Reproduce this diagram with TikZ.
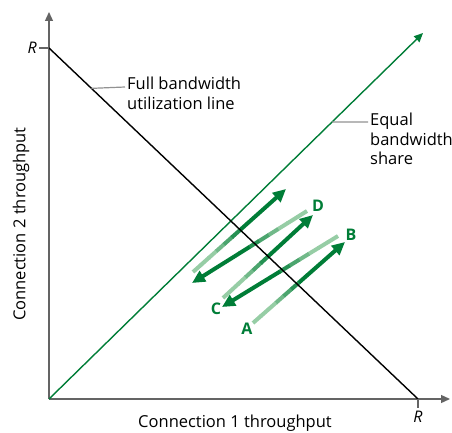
\documentclass[tikz,border=0pt]{standalone}
\usepackage{fontspec}
\setmainfont{Open Sans}
\usetikzlibrary{arrows.meta,positioning,calc}
\definecolor{flowgreen}{RGB}{0,125,55}
\definecolor{palegreen}{RGB}{150,205,165}
\definecolor{axisgray}{RGB}{100,100,100}
\tikzset{
	axis/.style={draw=axisgray, line width=1.3pt, -{Triangle[length=9pt,width=8pt]}},
	tick/.style={draw=axisgray, line width=1.3pt},
	leader/.style={draw=axisgray!70, line width=1.2pt},
	capacity/.style={draw=black, line width=1.4pt},
	fairline/.style={draw=flowgreen, line width=1.4pt, -{Triangle[length=9pt,width=8pt]}},
	caption/.style={font=\fontsize{16.5}{19.5}\selectfont, align=left, inner sep=0pt},
	rmark/.style={font=\fontsize{16}{19}\selectfont\itshape, inner sep=0pt},
	point/.style={font=\fontsize{16}{19}\selectfont\bfseries, text=flowgreen, inner sep=0pt},
	flowpiece/.style={line width=4pt}
}
% one step of the throughput trajectory, pale at its start
\newcommand{\trajectory}[2]{%
	\foreach \k in {0,...,6}{%
		\pgfmathtruncatemacro{\shade}{max(0,min(100,(\k-2)*25))}%
		\pgfmathsetmacro{\from}{\k/12}%
		\pgfmathsetmacro{\upto}{(\k+1)/12+0.005}%
		\draw[flowpiece, draw=flowgreen!\shade!palegreen] ($(#1)!\from!(#2)$) -- ($(#1)!\upto!(#2)$);
	}
	\draw[flowpiece, draw=flowgreen, -{Triangle[length=13pt,width=12pt]}] ($(#1)!0.5833!(#2)$) -- (#2);
}

\begin{document}
\begin{tikzpicture}[x=1pt, y=-1pt]
\useasboundingbox (0,0) rectangle (452,433);

% axes
\coordinate (O) at (49,399);
\coordinate (Ytop) at (49,12);
\coordinate (Xend) at (450,399);
\coordinate (Ry) at (49,48);
\coordinate (Rx) at (418,399);
\coordinate (Fair) at (423,33);

% trajectory
\coordinate (A) at (253,323);
\coordinate (Btip) at (345,242);
\coordinate (Bstart) at (338,236);
\coordinate (Ctip) at (222,307);
\coordinate (Cstart) at (223,298);
\coordinate (Dtip) at (313,215);
\coordinate (Dstart) at (307,211);
\coordinate (Etip) at (192,283);
\coordinate (Estart) at (193,272);
\coordinate (Ftip) at (286,189);

\trajectory{A}{Btip}
\trajectory{Bstart}{Ctip}
\trajectory{Cstart}{Dtip}
\trajectory{Dstart}{Etip}
\trajectory{Estart}{Ftip}

\draw[axis] (O) -- (Ytop);
\draw[axis] (O) -- (Xend);
\draw[fairline] (O) -- (Fair);
\draw[capacity] (Ry) -- (Rx);

\draw[tick] (Ry) -- ++(-10,0) coordinate (Rytick);
\draw[tick] (Rx) -- ++(0,9) coordinate (Rxtick);
\node[rmark, left=2pt of Rytick] (Rlabely) {R};
\node[rmark, below=3pt of Rxtick] (Rlabelx) {R};

% labels of the two lines
\coordinate (Fullfoot) at ($(Ry)!0.115!(Rx)$);
\coordinate (Fairfoot) at ($(O)!0.757!(Fair)$);
\draw[leader] (Fullfoot) -- (125,87) coordinate (Fullend);
\draw[leader] (Fairfoot) -- (368,122) coordinate (Fairend);
\node[caption, anchor=north west] (Fulltext) at (127,77) {Full bandwidth\\utilization line};
\node[caption, anchor=north west] (Fairtext) at (370,113) {Equal\\bandwidth\\share};

% axis titles
\node[caption] (Xtitle) at (235,423) {Connection 1 throughput};
\node[caption, rotate=90] (Ytitle) at (21,224) {Connection 2 throughput};

% points
\node[point] (Alabel) at (247,329) {A};
\node[point] (Blabel) at (351,235) {B};
\node[point] (Clabel) at (216,309) {C};
\node[point] (Dlabel) at (318,206) {D};
\end{tikzpicture}
\end{document}
